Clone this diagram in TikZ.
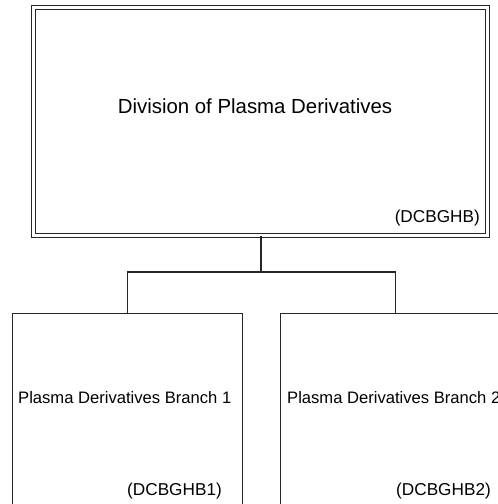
\documentclass[tikz,border=0pt]{standalone}
\usepackage{fontspec}
\setmainfont{Liberation Sans}
\begin{document}
\begin{tikzpicture}[x=1pt,y=-1pt,
  boxline/.style={draw=black!85, line width=1.2pt},
  topbox/.style={boxline, double=white, double distance=2.6pt, minimum width=454pt, minimum height=228pt, inner sep=0pt, anchor=north west},
  branchbox/.style={boxline, minimum width=230pt, minimum height=220pt, inner sep=0pt, anchor=north west},
  conn/.style={draw=black!85, line width=1.3pt},
  maintext/.style={font=\fontsize{20.4}{24}\selectfont, inner sep=0pt, anchor=base},
  subtext/.style={font=\fontsize{16.6}{20}\selectfont, inner sep=0pt, anchor=base west},
  codetext/.style={font=\fontsize{17.2}{20}\selectfont, inner sep=0pt, anchor=base east}]
\useasboundingbox (0,0) rectangle (498,504);
\clip (0,0) rectangle (498,504);
\node[topbox] (top) at (33,7) {};
\node[maintext] (toptitle) at (255,113) {Division of Plasma Derivatives};
\node[codetext] (topcode) at (480,222) {(DCBGHB)};
\node[branchbox] (b1) at (12,313) {};
\node[branchbox] (b2) at (280,313) {};
\node[subtext] (b1title) at (18,403) {Plasma Derivatives Branch 1};
\node[subtext] (b2title) at (287,403) {Plasma Derivatives Branch 2};
\node[codetext] (b1code) at (222,495) {(DCBGHB1)};
\node[codetext] (b2code) at (491,495) {(DCBGHB2)};
\coordinate (jn) at (261,272);
\draw[conn] (top.south -| jn) -- (jn);
\draw[conn] (b1.north) |- (jn) -| (b2.north);
\end{tikzpicture}
\end{document}
